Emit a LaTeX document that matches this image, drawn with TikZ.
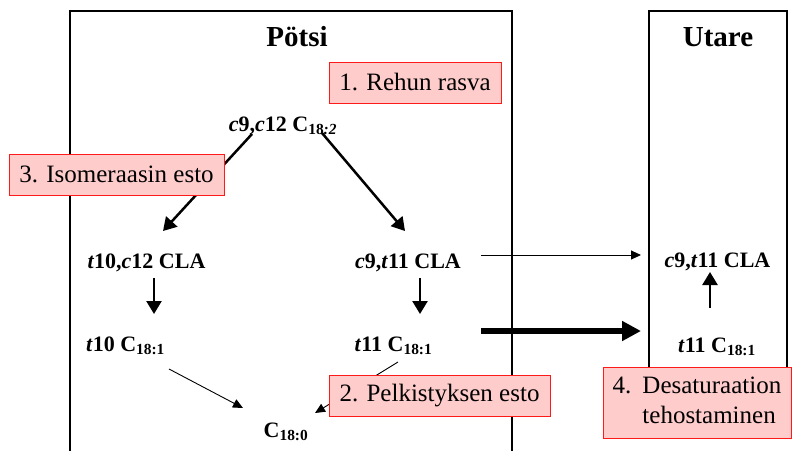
\documentclass[tikz,border=0pt]{standalone}
\usepackage{fontspec}
\setmainfont{Liberation Serif}
\usetikzlibrary{arrows.meta,calc}
\definecolor{notefill}{HTML}{FFCCCC}
\definecolor{notered}{HTML}{FF1A1A}
\begin{document}
\begin{tikzpicture}[x=1pt,y=-1pt,
 chem/.style={font=\fontsize{22}{26}\selectfont\bfseries, inner sep=0pt, anchor=base},
 boxtitle/.style={font=\fontsize{29}{34}\selectfont\bfseries, inner sep=0pt, anchor=base},
 note/.style={draw=notered, fill=notefill, line width=1pt, font=\fontsize{25}{30}\selectfont, inner sep=0pt, minimum height=41pt},
 frame/.style={line width=2pt},
 midarrow/.style={line width=2.5pt, -{Triangle[length=13pt,width=15pt]}},
 thinarrow/.style={line width=0.9pt, -{Triangle[length=10pt,width=9pt]}},
 thickarrow/.style={line width=5.5pt, -{Triangle[length=19pt,width=19pt]}}]
\useasboundingbox (0,0) rectangle (792,450);

% frames
\draw[frame] (70,452) -- (70,11) -- (512,11) -- (512,452);
\draw[frame] (649,11) rectangle (787,400);
\node[boxtitle] (potsi) at (297,46) {Pötsi};
\node[boxtitle] (utare) at (718,46) {Utare};

% chemical labels
\node[chem] (lin) at (283,131) {\textit{c}9,\textit{c}12 C\textsubscript{18\textit{:2}}};
\node[chem] (tcla) at (146.5,268) {\textit{t}10,\textit{c}12 CLA};
\node[chem] (ccla) at (408,268) {\textit{c}9,\textit{t}11 CLA};
\node[chem] (t10) at (125.5,351) {\textit{t}10 C\textsubscript{18:1}};
\node[chem] (t11) at (393.5,351) {\textit{t}11 C\textsubscript{18:1}};
\node[chem] (st) at (286,437) {C\textsubscript{18:0}};
\node[chem] (ucla) at (717.5,267) {\textit{c}9,\textit{t}11 CLA};
\node[chem] (ut11) at (717,352) {\textit{t}11 C\textsubscript{18:1}};

% connectors
\draw[midarrow] ([shift={(-31,3)}]lin.base) -- ([shift={(16.5,-37)}]tcla.base);
\draw[midarrow] ([shift={(39,2)}]lin.base) -- ([shift={(-3,-37)}]ccla.base);
\draw[midarrow] ([shift={(7.5,10)}]tcla.base) -- ([shift={(28.5,-37)}]t10.base);
\draw[midarrow] ([shift={(12,10)}]ccla.base) -- ([shift={(26.5,-37)}]t11.base);
\draw[thinarrow] ([shift={(43.5,18)}]t10.base) -- ([shift={(-43,-29)}]st.base);
\draw[thinarrow] ([shift={(4.5,11)}]t11.base) -- ([shift={(29,-24)}]st.base);
\draw[thinarrow] ([shift={(73,-13)}]ccla.base) -- ([shift={(-76.5,-12)}]ucla.base);
\draw[thickarrow] ([shift={(87.5,-20)}]t11.base) -- ([shift={(-76,-21)}]ut11.base);
\draw[midarrow] ([shift={(-7,-44)}]ut11.base) -- ([shift={(-7.5,5)}]ucla.base);

% notes
\node[note, minimum width=172pt] (n1) at (415,82.5) {1. Rehun rasva};
\node[note, minimum width=215pt] (n3) at (116.5,174.5) {3. Isomeraasin esto};
\node[note, minimum width=221pt] (n2) at (439.5,395.5) {2. Pelkistyksen esto};
\node[note, minimum width=188pt, minimum height=71pt] (n4) at (697,402.5)
  {\begin{tabular}{@{}l@{\hspace{11pt}}l@{}}4. & Desaturaation\\ & tehostaminen\end{tabular}};
\end{tikzpicture}
\end{document}
